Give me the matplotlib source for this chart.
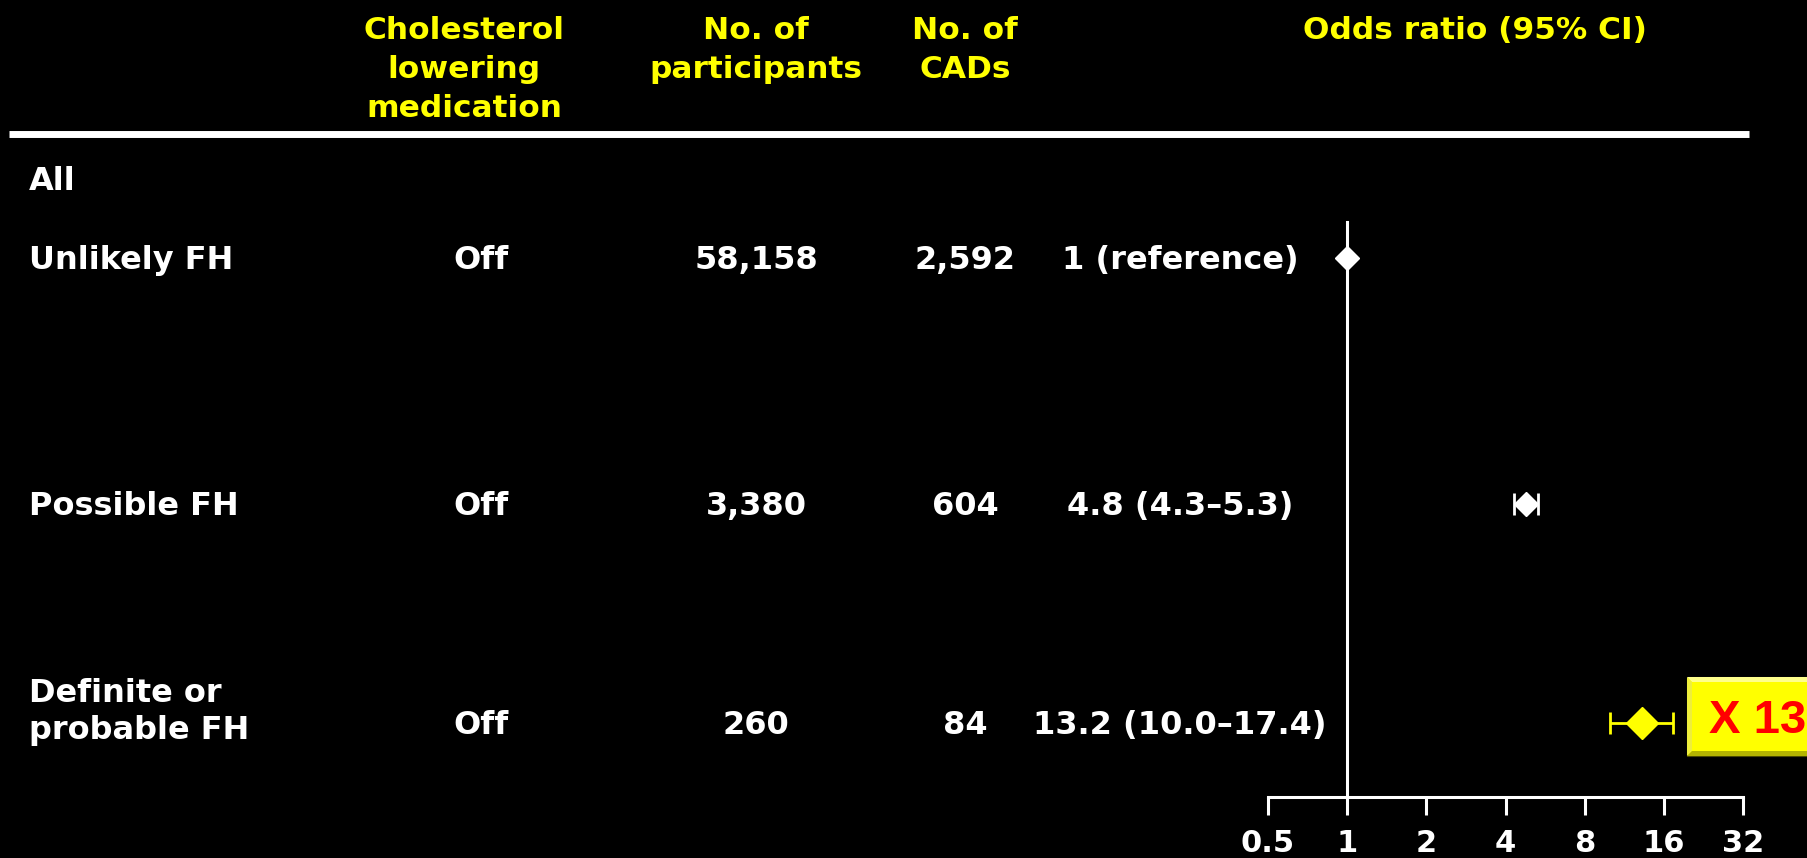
"""Forest plot: CAD odds ratio by FH category, off cholesterol lowering medication."""

import matplotlib.pyplot as plt
from matplotlib.patches import Polygon, Rectangle
from matplotlib.ticker import NullLocator

plt.rcParams["font.family"] = ["DejaVu Sans"]
plt.rcParams["font.weight"] = "bold"

# ---- data ----
groups = ["Unlikely FH", "Possible FH", "Definite or\nprobable FH"]
medication = ["Off", "Off", "Off"]
participants = [58158, 3380, 260]
cads = [2592, 604, 84]
odds = [1.0, 4.8, 13.2]
ci_low = [None, 4.3, 10.0]
ci_high = [None, 5.3, 17.4]
x_ticks = [0.5, 1, 2, 4, 8, 16, 32]

headers = [
    ("Cholesterol\nlowering\nmedication", 464),
    ("No. of\nparticipants", 756),
    ("No. of\nCADs", 965),
    ("Odds ratio (95% CI)", 1475),
]

# ---- layout (pixels) ----
W, H = 1807, 858
ROW_Y = [258, 504, 723]          # vertical centre of each row
ALL_Y = 179
AXIS_Y = 797
X_LEFT, X_RIGHT = 1268, 1743     # 0.5 .. 32 on the OR axis
COL_LABEL, COL_MED, COL_N, COL_CAD, COL_OR = 29, 481, 756, 965, 1180

YELLOW = "#ffff00"
WHITE = "#ffffff"
RED = "#ff0000"
row_colors = [WHITE, WHITE, YELLOW]
marker_sizes = [12, 12, 16]

fig = plt.figure(figsize=(W / 100, H / 100), dpi=100, facecolor="black")

# overlay in pixel coordinates for the table part
ax = fig.add_axes([0, 0, 1, 1])
ax.set_xlim(0, W)
ax.set_ylim(H, 0)
ax.axis("off")


def lines_text(x, y_base, text, step, **kw):
    for i, line in enumerate(text.split("\n")):
        ax.text(x, y_base + i * step, line, va="baseline", **kw)


for text, cx in headers:
    lines_text(cx, 39, text, 39, ha="center", color=YELLOW, fontsize=22.5)

ax.plot([9, 1749], [133.5, 133.5], color=WHITE, lw=5, solid_capstyle="butt")

ax.text(COL_LABEL, ALL_Y + 11, "All", va="baseline", ha="left", color=WHITE, fontsize=23)

for i, y in enumerate(ROW_Y):
    base = y + 11
    n_lines = groups[i].count("\n") + 1
    lines_text(COL_LABEL, base - (n_lines - 1) * 32, groups[i], 37,
               ha="left", color=WHITE, fontsize=23)
    ax.text(COL_MED, base, medication[i], va="baseline", ha="center", color=WHITE, fontsize=23)
    ax.text(COL_N, base, f"{participants[i]:,}", va="baseline", ha="center", color=WHITE, fontsize=23)
    ax.text(COL_CAD, base, f"{cads[i]:,}", va="baseline", ha="center", color=WHITE, fontsize=23)
    if ci_low[i] is None:
        or_txt = f"{odds[i]:g} (reference)"
    else:
        or_txt = f"{odds[i]:.1f} ({ci_low[i]:.1f}\u2013{ci_high[i]:.1f})"
    ax.text(COL_OR, base, or_txt, va="baseline", ha="center", color=WHITE, fontsize=23)

# ---- odds ratio axis ----
fx = fig.add_axes([X_LEFT / W, 0, (X_RIGHT - X_LEFT) / W, 1])
fx.set_facecolor("none")
fx.set_xscale("log", base=2)
fx.set_xlim(0.5, 32)
fx.set_ylim(H, 0)
for side in ["top", "right", "left"]:
    fx.spines[side].set_visible(False)
fx.spines["bottom"].set_position(("data", AXIS_Y))
fx.spines["bottom"].set_bounds(0.5, 32)
fx.spines["bottom"].set_color(WHITE)
fx.spines["bottom"].set_linewidth(2.2)
fx.set_xticks(x_ticks)
fx.set_xticklabels([f"{t:g}" for t in x_ticks])
fx.xaxis.set_minor_locator(NullLocator())
fx.tick_params(axis="x", direction="out", length=13, width=2.2, color=WHITE,
               labelcolor=WHITE, labelsize=22, pad=10)
fx.set_yticks([])

fx.plot([1, 1], [222, AXIS_Y], color=WHITE, lw=2.2, zorder=2)

for i, y in enumerate(ROW_Y):
    c = row_colors[i]
    if ci_low[i] is not None:
        fx.errorbar(odds[i], y, xerr=[[odds[i] - ci_low[i]], [ci_high[i] - odds[i]]],
                    fmt="none", ecolor=c, elinewidth=2, capsize=8, capthick=2,
                    zorder=3, clip_on=False)
    fx.plot(odds[i], y, marker="D", ms=marker_sizes[i], color=c, mec=c,
            linestyle="none", zorder=4, clip_on=False)

# ---- fold-change badge ----
bx0, by0, bx1, by1, b = 1687, 677, 1840, 756, 5
ax.add_patch(Rectangle((bx0, by0), bx1 - bx0, by1 - by0, facecolor=YELLOW,
                       edgecolor="#4a4a00", lw=0.8, zorder=5))
ax.add_patch(Polygon([(bx0, by0), (bx1, by0), (bx1 - b, by0 + b), (bx0 + b, by0 + b)],
                     closed=True, facecolor="#ffff8c", edgecolor="none", zorder=6))
ax.add_patch(Polygon([(bx0, by0), (bx0 + b, by0 + b), (bx0 + b, by1 - b), (bx0, by1)],
                     closed=True, facecolor="#eeee3c", edgecolor="none", zorder=6))
ax.add_patch(Polygon([(bx0, by1), (bx0 + b, by1 - b), (bx1 - b, by1 - b), (bx1, by1)],
                     closed=True, facecolor="#b4b400", edgecolor="none", zorder=6))
ax.text(1709, 733, f"X {round(odds[-1])}", va="baseline", ha="left", color=RED,
        fontsize=34, family=["Liberation Sans", "DejaVu Sans"], zorder=7)

fig.savefig("out.png", dpi=100, facecolor="black")
